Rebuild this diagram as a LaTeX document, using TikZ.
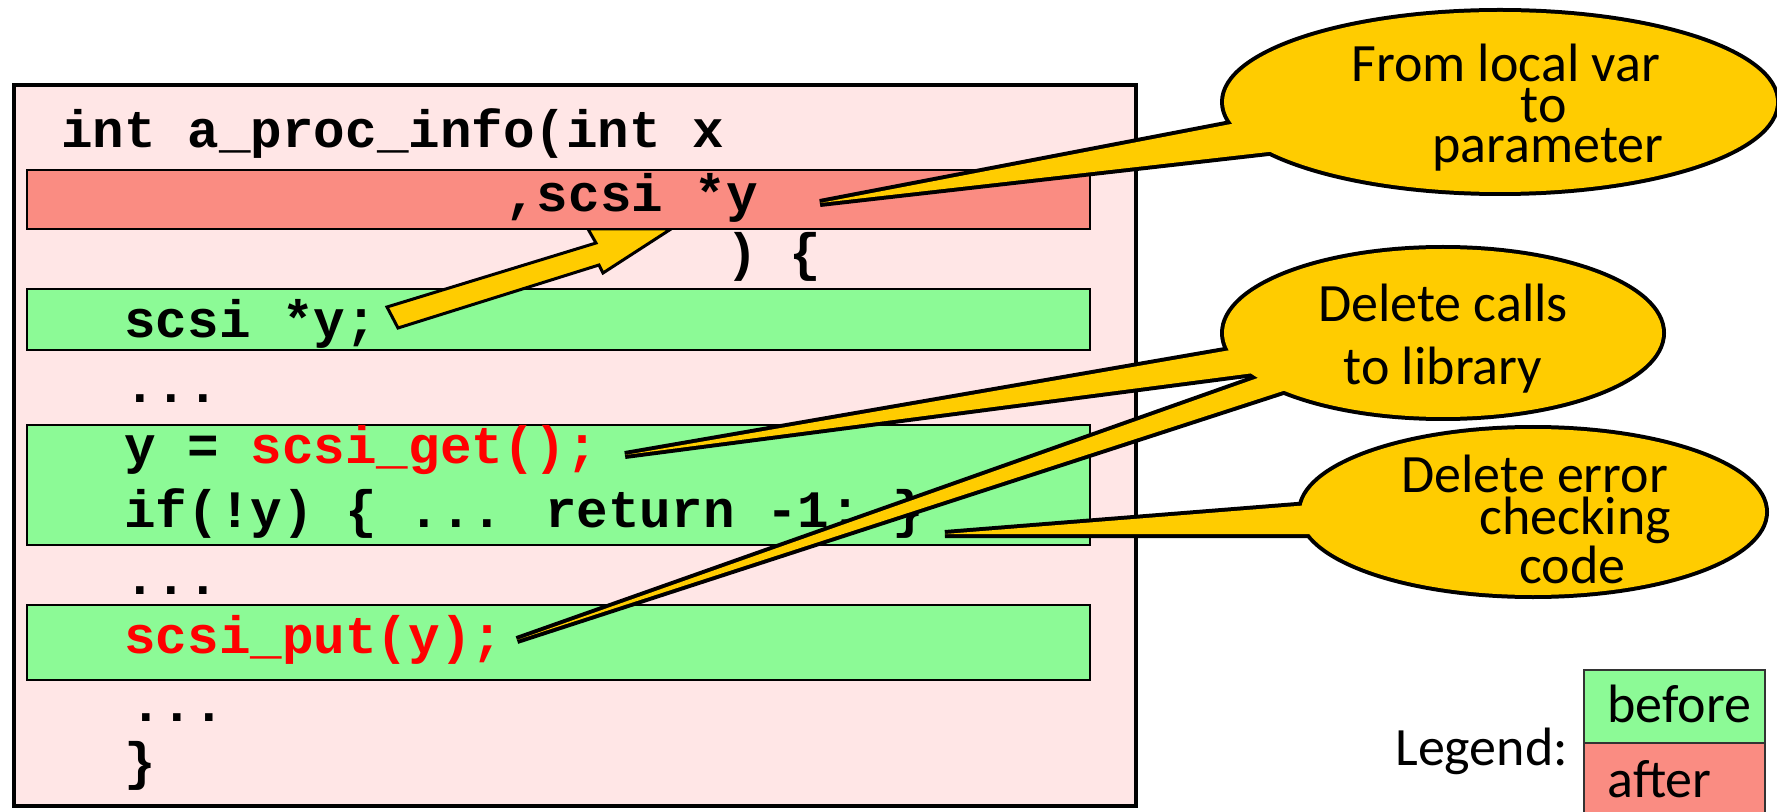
\documentclass[tikz,border=0pt]{standalone}
\usepackage{fontspec}
\newfontfamily\codefont{Liberation Mono}
\newfontfamily\handfont{Carlito}
\definecolor{pinkbg}{RGB}{255,230,230}
\definecolor{bandgreen}{RGB}{140,250,150}
\definecolor{bandred}{RGB}{250,140,130}
\definecolor{calloutyellow}{RGB}{255,204,0}
\definecolor{codered}{RGB}{255,0,0}
\tikzset{
  codetext/.style={font=\codefont\bfseries\fontsize{26.3}{30}\selectfont, anchor=base west, inner sep=0pt, text=black},
  band/.style={draw=black, line width=1pt},
  outerbox/.style={draw=black, line width=2pt, fill=pinkbg},
  calloutline/.style={draw=black, line width=4pt, line join=miter},
  calloutfill/.style={fill=calloutyellow},
  calltext/.style={inner sep=0pt},
  legendtext/.style={font=\handfont\fontsize{27}{30}\selectfont, anchor=base west, inner sep=0pt},
  blockarrow/.style={draw=black, line width=1.5pt, fill=calloutyellow, line join=miter}
}
\begin{document}
\begin{tikzpicture}[x=0.5pt,y=-0.5pt]
\useasboundingbox (0,0) rectangle (1777,812);
% code frame and bands
\draw[outerbox] (14,85) rectangle (1136,806);
\draw[band, fill=bandgreen] (27,289) rectangle (1090,350);
\draw[band, fill=bandgreen] (27,425) rectangle (1090,545);
\draw[band, fill=bandgreen] (27,605) rectangle (1090,680);
% block arrow from local var to parameter
\draw[blockarrow] (387,307) -- (596,243) -- (588,229) -- (671,229) -- (603,273) -- (599,265) -- (398,328) -- cycle;
\draw[band, fill=bandred] (27,170) rectangle (1090,229);
% code text
\node[codetext] (l1) at (61,148) {int a\_proc\_info(int x};
\node[codetext] (l2) at (505,212) {,scsi *y};
\node[codetext] (l3) at (726,271) {) \{};
\node[codetext] (l4) at (124,338) {scsi *y;};
\node[codetext] (l5) at (124,403) {...};
\node[codetext] (l6) at (124,463) {y = \textcolor{codered}{scsi\_get();}};
\node[codetext] (l7) at (124,527) {if(!y) \{ ... return -1; \}};
\node[codetext] (l8) at (124,594) {...};
\node[codetext, text=codered] (l9) at (124,653) {scsi\_put(y);};
\node[codetext] (l10) at (130,721) {...};
\node[codetext] (l11) at (124,779) {\}};
% callout anchors
\coordinate (c1) at (1500,102);
\coordinate (c2) at (1443,333);
\coordinate (c3) at (1533,512);
\coordinate (tip1) at (820,203);
\coordinate (tipA) at (625,455);
\coordinate (tipB) at (517,640);
\coordinate (tip3) at (945,534);
% outline pass
\path[calloutline] (c1) ellipse [x radius=138pt, y radius=45pt];
\path[calloutline] (tip1) -- (1330,105) -- (1330,145) -- cycle;
\path[calloutline] (c2) ellipse [x radius=109.5pt, y radius=42pt];
\path[calloutline] (tipA) -- (1300,338) -- (1300,367) -- cycle;
\path[calloutline] (tipB) -- (1320,356) -- (1320,379) -- cycle;
\path[calloutline] (c3) ellipse [x radius=116pt, y radius=41.5pt];
\path[calloutline] (tip3) -- (1360,501) -- (1360,534) -- cycle;
% fill pass
\path[calloutfill] (c1) ellipse [x radius=138pt, y radius=45pt];
\path[calloutfill] (tip1) -- (1330,105) -- (1330,145) -- cycle;
\path[calloutfill] (c2) ellipse [x radius=109.5pt, y radius=42pt];
\path[calloutfill] (tipA) -- (1300,338) -- (1300,367) -- cycle;
\path[calloutfill] (tipB) -- (1320,356) -- (1320,379) -- cycle;
\path[calloutfill] (c3) ellipse [x radius=116pt, y radius=41.5pt];
\path[calloutfill] (tip3) -- (1360,501) -- (1360,534) -- cycle;
% callout texts (anchor = baseline of last line)
\node[calltext, anchor=base west, align=left, font=\handfont\fontsize{27}{20.25}\selectfont] (t1) at (1351,163)
  {From local var\\\hspace*{84.5pt}to\\\hspace*{40.5pt}parameter};
\node[calltext, anchor=base, align=center, font=\handfont\fontsize{27}{31.5}\selectfont] (t2) at (1443,385)
  {Delete calls\\to library};
\node[calltext, anchor=base west, align=left, font=\handfont\fontsize{27}{20.75}\selectfont] (t3) at (1401,583)
  {Delete error\\\hspace*{39pt}checking\\\hspace*{59pt}code};
% legend
\draw[band, draw=black!80, fill=bandgreen] (1584,670) rectangle (1765,743);
\draw[band, draw=black!80, fill=bandred] (1584,743) rectangle (1765,830);
\node[legendtext] (lg) at (1395,765) {Legend:};
\node[legendtext] (lb) at (1607,722) {before};
\node[legendtext] (la) at (1607,797) {after};
\end{tikzpicture}
\end{document}
